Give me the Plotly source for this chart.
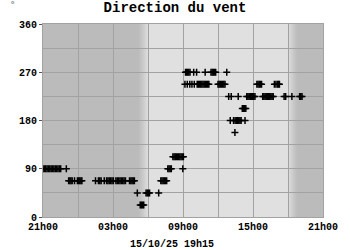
import plotly.graph_objects as go
import pandas as pd

# ---- data -------------------------------------------------------------
# observation times (HH:MM); times >= 21:00 belong to 14/10, others to 15/10
obs_time = [
    "21:00", "21:07", "21:14", "21:21", "21:28", "21:35", "21:42", "21:49", "21:56",
    "22:03", "22:10", "22:17", "22:24", "22:31", "23:00",
    "23:12", "23:18", "23:24", "23:30", "23:42", "23:57", "00:03", "00:09", "00:15", "00:20",
    "01:30", "01:45", "01:52", "01:59", "02:15", "02:27", "02:34", "02:41", "02:48", "02:55",
    "03:02", "03:15", "03:22", "03:29", "03:36", "03:43", "03:50", "03:57", "04:04", "04:25",
    "04:32", "04:38", "04:44", "04:50",
    "05:05", "05:20", "05:26", "05:32", "05:38", "05:50", "05:56", "06:02", "06:08", "06:55",
    "07:06", "07:12", "07:18", "07:24", "07:30", "07:36",
    "07:42", "07:48", "07:54", "08:00",
    "08:08", "08:14", "08:20", "08:26", "08:32", "08:38", "08:44", "08:50", "08:56",
    "08:59", "09:02",
    "09:10", "09:13", "09:18", "09:22", "09:24", "09:30", "09:35", "09:36", "09:46", "09:55",
    "09:58", "10:10", "10:13", "10:19", "10:25", "10:31", "10:37", "10:43", "10:49", "10:54",
    "10:55", "11:01", "11:07", "11:13",
    "11:24", "11:30", "11:36", "11:42", "11:48",
    "12:00", "12:06", "12:12", "12:18", "12:24", "12:30", "12:36", "12:45",
    "12:55", "13:03", "13:08", "13:20", "13:27", "13:28", "13:35", "13:41", "13:44", "13:47",
    "13:53", "13:59", "14:05", "14:11", "14:17", "14:19", "14:23",
    "14:28", "14:34", "14:40", "14:46", "14:52", "14:58", "15:04", "15:10",
    "15:20", "15:26", "15:32", "15:38", "15:44",
    "15:50", "15:56", "16:02", "16:08", "16:14", "16:20", "16:26", "16:32", "16:38", "16:44",
    "16:50", "16:58", "17:06", "17:11", "17:16",
    "17:40", "17:48", "18:20", "19:00", "19:06", "19:12",
]
obs_dir = [
    90, 90, 90, 90, 90, 90, 90, 90, 90,
    90, 90, 90, 90, 90, 90,
    67.5, 67.5, 67.5, 67.5, 67.5, 67.5, 67.5, 67.5, 67.5, 67.5,
    67.5, 67.5, 67.5, 67.5, 67.5, 67.5, 67.5, 67.5, 67.5, 67.5,
    67.5, 67.5, 67.5, 67.5, 67.5, 67.5, 67.5, 67.5, 67.5, 67.5,
    67.5, 67.5, 67.5, 67.5,
    45, 22.5, 22.5, 22.5, 22.5, 45, 45, 45, 45, 45,
    67.5, 67.5, 67.5, 67.5, 67.5, 67.5,
    90, 90, 90, 90,
    112.5, 112.5, 112.5, 112.5, 112.5, 112.5, 112.5, 112.5, 112.5,
    90, 112.5,
    247.5, 270, 270, 247.5, 270, 270, 247.5, 270, 247.5, 270,
    247.5, 270, 247.5, 247.5, 247.5, 247.5, 247.5, 247.5, 247.5, 270,
    247.5, 247.5, 247.5, 247.5,
    270, 270, 270, 270, 270,
    247.5, 247.5, 247.5, 247.5, 247.5, 247.5, 247.5, 270,
    225, 180, 225, 180, 157.5, 180, 180, 180, 225, 180,
    180, 180, 202.5, 202.5, 202.5, 180, 202.5,
    225, 225, 225, 225, 225, 225, 225, 225,
    247.5, 247.5, 247.5, 247.5, 247.5,
    225, 225, 225, 225, 225, 225, 225, 225, 225, 225,
    247.5, 247.5, 247.5, 247.5, 247.5,
    225, 225, 225, 225, 225, 225,
]

x_start = "2025-10-14 21:00"
x_end = "2025-10-15 21:00"
x_tickvals = ["2025-10-14 21:00", "2025-10-15 03:00", "2025-10-15 09:00",
              "2025-10-15 15:00", "2025-10-15 21:00"]
x_ticktext = ["21h00", "03h00", "09h00", "15h00", "21h00"]
y_tickvals = [0, 90, 180, 270, 360]

title_text = "Direction du vent"
footer_text = "15/10/25 19h15"
unit_text = "°"

# day / night shading
dawn_start, dawn_end = "2025-10-15 05:10", "2025-10-15 06:00"
dusk_start, dusk_end = "2025-10-15 18:00", "2025-10-15 18:50"

# ---- build ------------------------------------------------------------
def to_dt(t):
    day = "2025-10-14" if int(t[:2]) >= 21 else "2025-10-15"
    return f"{day} {t}"

xs = [to_dt(t) for t in obs_time]

DARK = (187, 187, 187)
LIGHT = (224, 224, 224)
GRID = "#a2a2a2"
FONT = "Liberation Mono"

def mix(a, b, f):
    return "rgb(%d,%d,%d)" % tuple(round(a[i] + (b[i] - a[i]) * f) for i in range(3))

shapes = [dict(type="rect", xref="x", yref="paper", x0=dawn_end, x1=dusk_start,
               y0=0, y1=1, fillcolor=mix(DARK, LIGHT, 1), line_width=0, layer="below")]
N = 10
for rng, rev in (((dawn_start, dawn_end), False), ((dusk_start, dusk_end), True)):
    edges = pd.date_range(rng[0], rng[1], periods=N + 1)
    for i in range(N):
        f = (i + 0.5) / N
        if rev:
            f = 1 - f
        shapes.append(dict(type="rect", xref="x", yref="paper",
                           x0=edges[i], x1=edges[i + 1], y0=0, y1=1,
                           fillcolor=mix(DARK, LIGHT, f), line_width=0, layer="below"))

fig = go.Figure(go.Scatter(
    x=xs, y=obs_dir, mode="markers",
    marker=dict(symbol="cross-thin", size=5, color="black",
                line=dict(width=1.5, color="black")),
    hoverinfo="skip",
))

fig.update_layout(
    width=350, height=250,
    margin=dict(l=43, r=22, t=24, b=33),
    paper_bgcolor="white",
    plot_bgcolor=mix(DARK, DARK, 0),
    showlegend=False,
    shapes=shapes,
    font=dict(family=FONT, size=10, color="black", weight="bold"),
    title=dict(text=title_text, x=0.5, xanchor="center", y=0.972, yanchor="middle",
               font=dict(family=FONT, size=14, color="black", weight="bold")),
    annotations=[
        dict(text=footer_text, xref="paper", yref="paper", x=0.46, y=-0.14,
             xanchor="center", yanchor="middle", showarrow=False,
             font=dict(family=FONT, size=10, color="black", weight="bold")),
        dict(text=unit_text, xref="paper", yref="paper", x=-0.109, y=1.1,
             xanchor="center", yanchor="middle", showarrow=False,
             font=dict(family=FONT, size=9, color="#777777")),
    ],
)

fig.update_xaxes(
    type="date", range=[x_start, x_end],
    tickvals=x_tickvals, ticktext=x_ticktext, tickangle=0,
    showgrid=True, gridcolor=GRID, gridwidth=1,
    minor=dict(dtick=3 * 3600 * 1000, tick0=x_start, showgrid=True,
               gridcolor=GRID, gridwidth=1),
    showline=True, linecolor=GRID, linewidth=1, mirror=True,
    ticks="", ticklen=0, zeroline=False,
)
fig.update_yaxes(
    range=[0, 360], tickvals=y_tickvals,
    showgrid=True, gridcolor=GRID, gridwidth=1,
    minor=dict(dtick=45, showgrid=True, gridcolor=GRID, gridwidth=1),
    showline=True, linecolor=GRID, linewidth=1, mirror=True,
    ticks="outside", ticklen=3, tickcolor="#555555", zeroline=False,
)

fig.write_html("out.html")
